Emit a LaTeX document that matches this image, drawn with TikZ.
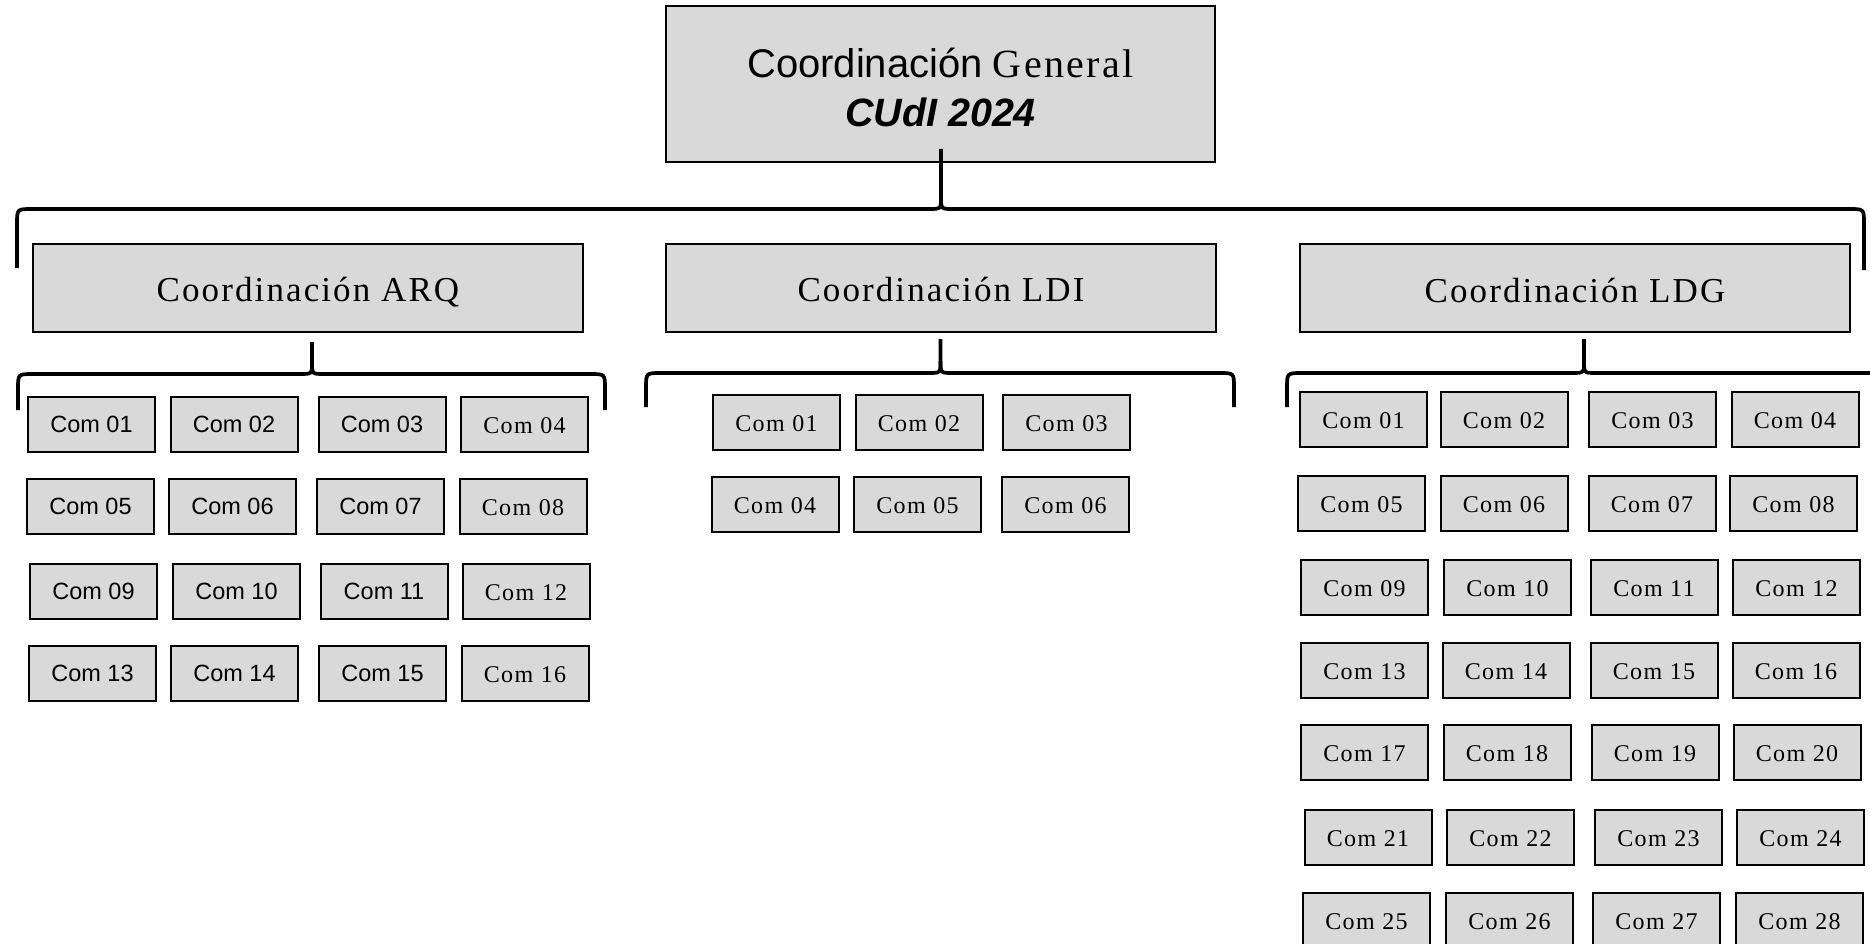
\documentclass[tikz,border=0pt]{standalone}
\usepackage{fontspec}
\setmainfont{Liberation Serif}
\newfontfamily\arialf{Liberation Sans}
\newfontfamily\timesls[LetterSpace=6]{Liberation Serif}
\definecolor{boxgray}{HTML}{D9D9D9}
\newcommand\mybrace[7]{% xl, xc, xr, yh, ytop, ybotL, ybotR
  \draw[bracestyle] (#1,#6) -- (#1,{#4+15}) .. controls (#1,#4) .. ({#1+15},#4) -- ({#2-12},#4) .. controls (#2,#4) .. (#2,{#4-12}) -- (#2,#5);
  \draw[bracestyle] (#2,{#4-12}) .. controls (#2,#4) .. ({#2+12},#4) -- ({#3-15},#4) .. controls (#3,#4) .. (#3,{#4+15}) -- (#3,#7);
}
\begin{document}
\begin{tikzpicture}[x=1pt,y=-1pt,
  box/.style={draw=black,fill=boxgray,line width=2pt,inner sep=0pt},
  coordbox/.style={box,minimum width=550pt,minimum height=88pt,text height=28pt,text depth=0pt,font=\timesls\fontsize{35}{40}\selectfont},
  comser/.style={box,minimum width=127pt,minimum height=55pt,text height=18.5pt,text depth=0pt,font=\timesls\fontsize{24}{28}\selectfont},
  comsan/.style={box,minimum width=127pt,minimum height=55pt,font=\arialf\fontsize{23.5}{27}\selectfont},
  bracestyle/.style={line width=3.7pt,line join=round,line cap=butt}]
\useasboundingbox (0,0) rectangle (1870,944);
\clip (0,0) rectangle (1870,944);

% top box
\node[box,minimum width=549pt,minimum height=156pt] (top) at (940.5,84) {};
\node[inner sep=0pt] (topA) at (940.5,63) {\fontsize{40}{46}\selectfont{\arialf Coordinación} {\timesls General}};
\node[inner sep=0pt] (topB) at (940.5,112) {\arialf\bfseries\itshape\fontsize{39.5}{45}\selectfont CUdI 2024};
\mybrace{17}{941}{1864}{209}{149}{268}{270}

% coordination boxes
\node[coordbox] (arq) at (308,287.5) {Coordinación ARQ};
\node[coordbox] (ldi) at (941,287.5) {Coordinación LDI};
\node[coordbox] (ldg) at (1575,288) {Coordinación LDG};

\mybrace{18}{312}{605}{374}{342}{410}{410}
\mybrace{646}{940.5}{1234}{373}{339}{407}{407}
\mybrace{1287}{1584}{1905}{373}{339}{407}{407}

% ARQ committees
\foreach \n/\x/\y in {01/91.5/424.5,02/234/424.5,03/382/424.5,
                      05/90.5/506,06/232.5/506,07/380.5/506,
                      09/93.5/591,10/236.5/591,11/384/591,
                      13/92.5/673.5,14/234.5/673.5,15/382.5/673.5}
  {\node[comsan] (arq\n) at (\x,\y) {Com \n};}
\foreach \n/\x/\y in {04/524.5/424.5,08/523/506,12/526/591,16/525/673.5}
  {\node[comser] (arq\n) at (\x,\y) {Com \n};}

% LDI committees
\foreach \n/\x/\y in {01/776.5/422,02/919/422,03/1066.5/422,
                      04/775/504.5,05/917.5/504.5,06/1065.5/504.5}
  {\node[comser] (ldi\n) at (\x,\y) {Com \n};}

% LDG committees
\foreach \n/\x/\y in {01/1363.5/419,02/1504/419,03/1652.5/419,04/1795/419,
                      05/1361.5/503,06/1504/503,07/1652/503,08/1793.5/503,
                      09/1364.5/587,10/1507.5/587,11/1654/587,12/1796.5/587,
                      13/1364.5/670,14/1506/670,15/1654/670,16/1796/670,
                      17/1364.5/752,18/1507/752,19/1655/752,20/1797/752,
                      21/1368/837.5,22/1510.5/837.5,23/1658.5/837.5,24/1800.5/837.5,
                      25/1366.5/920,26/1509.5/920,27/1656.5/920,28/1799.5/920}
  {\node[comser] (ldg\n) at (\x,\y) {Com \n};}
\end{tikzpicture}
\end{document}
